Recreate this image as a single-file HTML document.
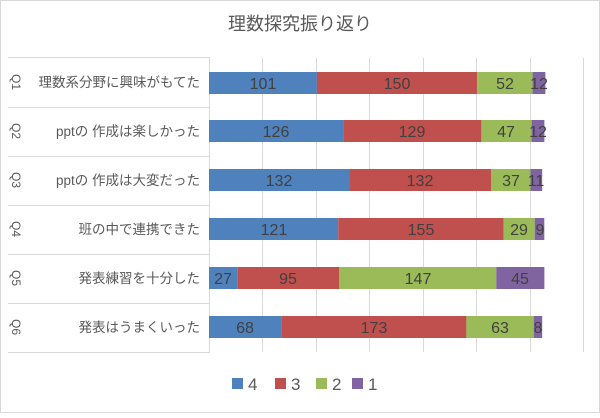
<!DOCTYPE html>
<html><head><meta charset="utf-8"><style>
html,body{margin:0;padding:0;background:#fff}
svg text{font-family:"Liberation Sans","Noto Sans CJK JP",sans-serif}
</style></head><body>
<svg width="600" height="413" xmlns="http://www.w3.org/2000/svg">
<rect x="0.5" y="0.5" width="599" height="412" fill="#fff" stroke="#d9d9d9"/>
<text x="300" y="30" text-anchor="middle" font-size="18" fill="#595959">理数探究振り返り</text>
<g stroke="#d9d9d9" stroke-width="1">
<line x1="262.5" y1="58" x2="262.5" y2="352"/><line x1="316.5" y1="58" x2="316.5" y2="352"/>
<line x1="369.5" y1="58" x2="369.5" y2="352"/><line x1="423.5" y1="58" x2="423.5" y2="352"/>
<line x1="476.5" y1="58" x2="476.5" y2="352"/><line x1="530.5" y1="58" x2="530.5" y2="352"/>
<line x1="583.5" y1="58" x2="583.5" y2="352"/>
<path d="M8 57.5H209.5V352.5H8M8 107.5H209M8 156.5H209M8 205.5H209M8 254.5H209M8 303.5H209" fill="none"/>
</g>
<g font-size="13.5" fill="#595959" text-anchor="end">
<text x="200" y="87">理数系分野に興味がもてた</text>
<text x="200" y="136">pptの 作成は楽しかった</text>
<text x="200" y="185">pptの 作成は大変だった</text>
<text x="200" y="234">班の中で連携できた</text>
<text x="200" y="283">発表練習を十分した</text>
<text x="200" y="332">発表はうまくいった</text>
</g>
<g font-size="12" fill="#595959" text-anchor="middle">
<text transform="translate(12,82) rotate(90)">Q1</text>
<text transform="translate(12,131) rotate(90)">Q2</text>
<text transform="translate(12,180) rotate(90)">Q3</text>
<text transform="translate(12,229) rotate(90)">Q4</text>
<text transform="translate(12,278) rotate(90)">Q5</text>
<text transform="translate(12,327) rotate(90)">Q6</text>
</g>
<g>
<rect x="209" y="72" width="107.9" height="22" fill="#4f81bd"/><rect x="316.9" y="72" width="160.2" height="22" fill="#c0504d"/><rect x="477.1" y="72" width="55.5" height="22" fill="#9bbb59"/><rect x="532.6" y="72" width="12.8" height="22" fill="#8064a2"/>
<rect x="209" y="120" width="134.6" height="22" fill="#4f81bd"/><rect x="343.6" y="120" width="137.8" height="22" fill="#c0504d"/><rect x="481.4" y="120" width="50.2" height="22" fill="#9bbb59"/><rect x="531.6" y="120" width="12.8" height="22" fill="#8064a2"/>
<rect x="209" y="169" width="141" height="22" fill="#4f81bd"/><rect x="350" y="169" width="141" height="22" fill="#c0504d"/><rect x="491" y="169" width="39.5" height="22" fill="#9bbb59"/><rect x="530.5" y="169" width="11.7" height="22" fill="#8064a2"/>
<rect x="209" y="218" width="129.2" height="22" fill="#4f81bd"/><rect x="338.2" y="218" width="165.5" height="22" fill="#c0504d"/><rect x="503.7" y="218" width="31" height="22" fill="#9bbb59"/><rect x="534.7" y="218" width="9.6" height="22" fill="#8064a2"/>
<rect x="209" y="267" width="28.8" height="22" fill="#4f81bd"/><rect x="237.8" y="267" width="101.5" height="22" fill="#c0504d"/><rect x="339.3" y="267" width="157" height="22" fill="#9bbb59"/><rect x="496.3" y="267" width="48.1" height="22" fill="#8064a2"/>
<rect x="209" y="316" width="72.6" height="22" fill="#4f81bd"/><rect x="281.6" y="316" width="184.8" height="22" fill="#c0504d"/><rect x="466.4" y="316" width="67.3" height="22" fill="#9bbb59"/><rect x="533.7" y="316" width="8.5" height="22" fill="#8064a2"/>
</g>
<g font-size="16" fill="#404040" text-anchor="middle">
<text x="263" y="89">101</text><text x="397" y="89">150</text><text x="505" y="89">52</text><text x="539" y="89">12</text>
<text x="276" y="137">126</text><text x="412" y="137">129</text><text x="506" y="137">47</text><text x="538" y="137">12</text>
<text x="279" y="186">132</text><text x="420" y="186">132</text><text x="511" y="186">37</text><text x="536" y="186">11</text>
<text x="274" y="235">121</text><text x="421" y="235">155</text><text x="519" y="235">29</text><text x="540" y="235">9</text>
<text x="223" y="284">27</text><text x="288" y="284">95</text><text x="418" y="284">147</text><text x="520" y="284">45</text>
<text x="245" y="333">68</text><text x="374" y="333">173</text><text x="500" y="333">63</text><text x="538" y="333">8</text>
</g>
<g font-size="17" fill="#595959">
<rect x="232" y="378" width="11" height="11" fill="#4f81bd"/><text x="248" y="390">4</text>
<rect x="275" y="378" width="11" height="11" fill="#c0504d"/><text x="291" y="390">3</text>
<rect x="316" y="378" width="11" height="11" fill="#9bbb59"/><text x="332" y="390">2</text>
<rect x="352" y="378" width="11" height="11" fill="#8064a2"/><text x="368" y="390">1</text>
</g>
</svg>
</body></html>
